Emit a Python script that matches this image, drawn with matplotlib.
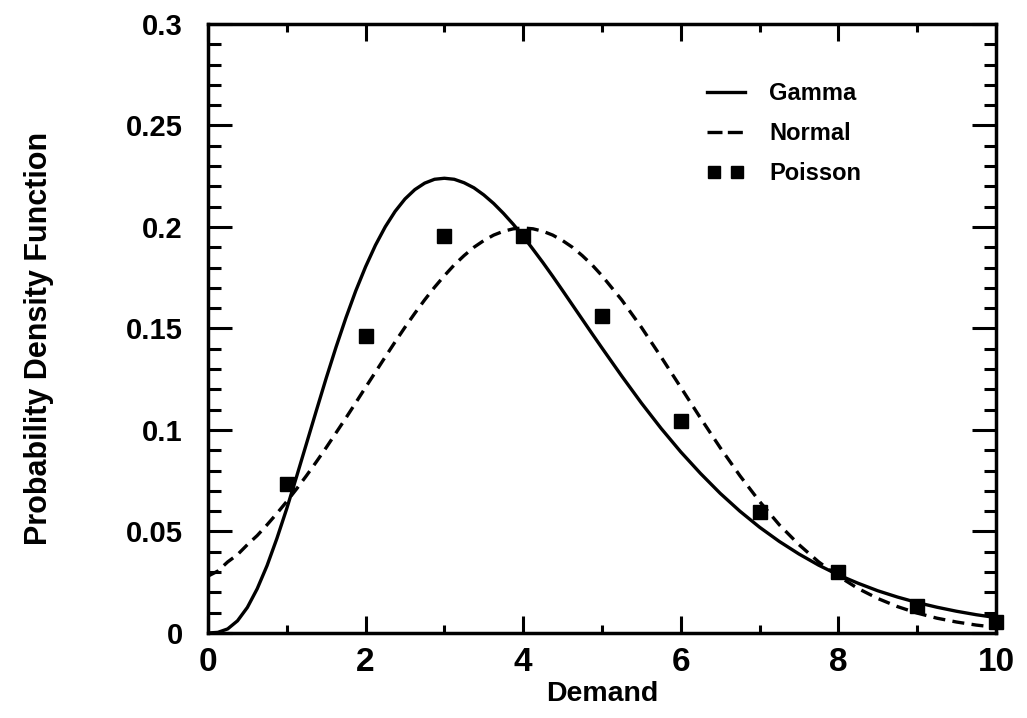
import matplotlib
matplotlib.use("Agg")
import matplotlib.pyplot as plt
from matplotlib.ticker import MultipleLocator
from matplotlib.legend_handler import HandlerLine2D

# ---- data ----
curve_x = [0.0, 0.125, 0.25, 0.375, 0.5, 0.625, 0.75, 0.875, 1.0, 1.125,
           1.25, 1.375, 1.5, 1.625, 1.75, 1.875, 2.0, 2.125, 2.25, 2.375,
           2.5, 2.625, 2.75, 2.875, 3.0, 3.125, 3.25, 3.375, 3.5, 3.625,
           3.75, 3.875, 4.0, 4.125, 4.25, 4.375, 4.5, 4.625, 4.75, 4.875,
           5.0, 5.25, 5.5, 5.75, 6.0, 6.25, 6.5, 6.75, 7.0, 7.25, 7.5, 7.75,
           8.0, 8.25, 8.5, 8.75, 9.0, 9.25, 9.5, 9.75, 10.0]
gamma_y = [0.0, 0.0003, 0.0020, 0.0060, 0.0126, 0.0218, 0.0332, 0.0466,
           0.0613, 0.0771, 0.0933, 0.1095, 0.1255, 0.1408, 0.1552, 0.1685,
           0.1804, 0.1910, 0.2001, 0.2077, 0.2138, 0.2184, 0.2216, 0.2235,
           0.2240, 0.2235, 0.2218, 0.2193, 0.2158, 0.2116, 0.2067, 0.2013,
           0.1954, 0.1890, 0.1825, 0.1757, 0.1687, 0.1616, 0.1545, 0.1474,
           0.1404, 0.1266, 0.1133, 0.1008, 0.0892, 0.0786, 0.0688, 0.0600,
           0.0521, 0.0451, 0.0389, 0.0334, 0.0286, 0.0245, 0.0208, 0.0177,
           0.0150, 0.0127, 0.0107, 0.0090, 0.0076]
normal_y = [0.0280, 0.0305, 0.0350, 0.0386, 0.0435, 0.0480, 0.0533, 0.0589,
            0.0648, 0.0710, 0.0775, 0.0843, 0.0913, 0.0986, 0.1059, 0.1134,
            0.1210, 0.1285, 0.1360, 0.1434, 0.1506, 0.1575, 0.1641, 0.1703,
            0.1760, 0.1813, 0.1859, 0.1900, 0.1933, 0.1960, 0.1979, 0.1991,
            0.1995, 0.1991, 0.1979, 0.1960, 0.1933, 0.1900, 0.1859, 0.1813,
            0.1760, 0.1641, 0.1506, 0.1360, 0.1210, 0.1059, 0.0913, 0.0775,
            0.0648, 0.0533, 0.0435, 0.0350, 0.0280, 0.0219, 0.0170, 0.0130,
            0.0098, 0.0073, 0.0054, 0.0039, 0.0028]
poisson_x = [1, 2, 3, 4, 5, 6, 7, 8, 9, 10]
poisson_y = [0.0733, 0.1465, 0.1954, 0.1954, 0.1563, 0.1042, 0.0595, 0.0298,
             0.0132, 0.0053]

x_ticks = [0, 2, 4, 6, 8, 10]
x_ticklabels = ["0", "2", "4", "6", "8", "10"]
y_ticks = [0, 0.05, 0.1, 0.15, 0.2, 0.25, 0.3]
y_ticklabels = ["0", "0.05", "0.1", "0.15", "0.2", "0.25", "0.3"]

plt.rcParams['font.family'] = ['Liberation Sans', 'DejaVu Sans']
plt.rcParams['font.weight'] = 'bold'

fig = plt.figure(figsize=(10.27, 7.18), dpi=100)
ax = fig.add_axes([0.2025, 0.1184, 0.7673, 0.8482])

l_gamma, = ax.plot(curve_x, gamma_y, color='black', lw=2.4,
                   solid_joinstyle='round', label='Gamma')
l_normal, = ax.plot(curve_x, normal_y, color='black', lw=2.4,
                    ls=(0, (3.6, 2.2)), label='Normal')
l_poisson, = ax.plot(poisson_x, poisson_y, ls='none', marker='s', ms=9.5,
                     color='black', mec='black', label='Poisson',
                     clip_on=False, zorder=3)

ax.set_xlim(0, 10)
ax.set_ylim(0, 0.3)
ax.set_xticks(x_ticks)
ax.set_xticklabels(x_ticklabels)
ax.set_yticks(y_ticks)
ax.set_yticklabels(y_ticklabels)
ax.xaxis.set_minor_locator(MultipleLocator(1))
ax.yaxis.set_minor_locator(MultipleLocator(0.01))

for s in ax.spines.values():
    s.set_linewidth(2.5)

ax.tick_params(axis='both', which='both', direction='in', top=True,
               right=True, width=2.2)
ax.tick_params(axis='x', which='major', length=12.5, pad=10, labelsize=24)
ax.tick_params(axis='x', which='minor', length=5.5)
ax.tick_params(axis='y', which='major', length=17, pad=18, labelsize=21)
ax.tick_params(axis='y', which='minor', length=9)
for lab in ax.get_xticklabels() + ax.get_yticklabels():
    lab.set_fontweight('bold')

ax.set_xlabel('Demand', fontsize=20.5, fontweight='bold', labelpad=2)
ax.set_ylabel('Probability Density Function', fontsize=22,
              fontweight='bold')
ax.yaxis.set_label_coords(-0.196, 0.484)

leg = ax.legend(handles=[l_gamma, l_normal, l_poisson],
                handler_map={l_gamma: HandlerLine2D(numpoints=1),
                             l_normal: HandlerLine2D(numpoints=1)},
                loc='upper left', bbox_to_anchor=(0.633, 0.905),
                frameon=False, fontsize=17, numpoints=2, handlelength=1.6,
                handletextpad=1.05, labelspacing=0.72, borderpad=0,
                borderaxespad=0, markerscale=0.9)
for t in leg.get_texts():
    t.set_fontweight('bold')
leg.get_lines()[1].set_dashes([4.5, 1.6])

fig.savefig('out.png', dpi=100)
